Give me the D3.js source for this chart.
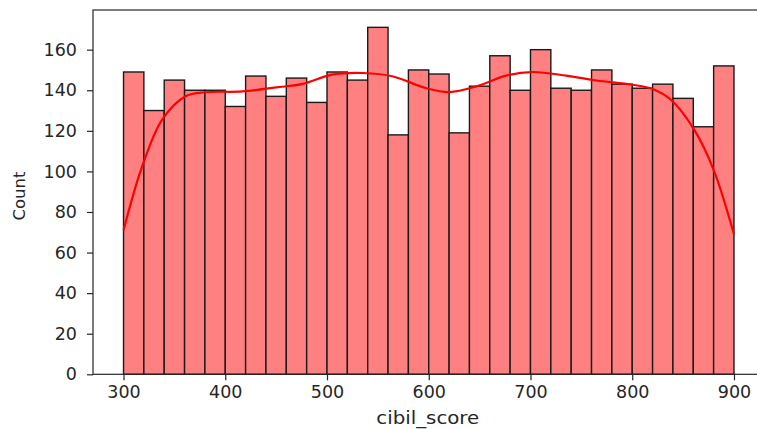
<!DOCTYPE html>
<html><head><meta charset="utf-8">
<script src="https://cdn.jsdelivr.net/npm/d3@7"></script>
<style>body{margin:0;background:#fff}svg{display:block}text{font-family:"DejaVu Sans",sans-serif;fill:#262626}</style>
</head><body><svg id="c" width="757" height="429"></svg>
<script>
const binStarts = [300,320,340,360,380,400,420,440,460,480,500,520,540,560,580,600,620,640,660,680,700,720,740,760,780,800,820,840,860,880];
const counts = [149,130,145,140,140,132,147,137,146,134,149,145,171,118,150,148,119,142,157,140,160,141,140,150,143,141,143,136,122,152];
const binWidth = 20;
const kdeX = [300,318,338,361,381,417,450,475,505,535,565,597,620,647,676,702,735,765,800,820,838,861,880,900];
const kdeY = [71,102,125.5,137,139,139.4,141.4,143,147.7,148.5,146.8,141.1,139.1,141.9,147.2,149,147.2,144.8,142.7,140.6,135.3,120.5,100.8,69];
const xTicks = [300,400,500,600,700,800,900];
const yTicks = [0,20,40,60,80,100,120,140,160];

const svg = d3.select("#c");
const L = 93, T = 10, B = 374.3, R = 764.5;
const x = d3.scaleLinear().domain([270,930]).range([L,R]);
const y = d3.scaleLinear().domain([0,179.55]).range([B,T]);

const g = svg.append("g");
g.selectAll("rect.bar").data(binStarts).join("rect")
  .attr("class","bar")
  .attr("x", d => x(d))
  .attr("width", d => x(d+binWidth)-x(d))
  .attr("y", (d,i) => y(counts[i]))
  .attr("height", (d,i) => y(0)-y(counts[i]))
  .attr("fill","#ff8080").attr("stroke","#1a1a1a").attr("stroke-width",1.4);

const line = d3.line().x(d=>x(d[0])).y(d=>y(d[1])).curve(d3.curveCatmullRom.alpha(0.5));
g.append("path").datum(kdeX.map((v,i)=>[v,kdeY[i]]))
  .attr("d", line).attr("fill","none").attr("stroke","#ff0000").attr("stroke-width",2.2);

// axes
const xAxis = svg.append("g").attr("transform",`translate(0,${B})`)
  .call(d3.axisBottom(x).tickValues(xTicks).tickSize(6).tickPadding(5));
const yAxis = svg.append("g").attr("transform",`translate(${L},0)`)
  .call(d3.axisLeft(y).tickValues(yTicks).tickSize(6).tickPadding(10));
[xAxis,yAxis].forEach(a=>{
  a.select(".domain").remove();
  a.selectAll("line").attr("stroke","#262626").attr("stroke-width",1.2);
  a.selectAll("text").style("font-size","17.5px").style("font-family","DejaVu Sans").attr("fill","#262626");
});
// spines
svg.append("rect").attr("x",L).attr("y",T).attr("width",R-L).attr("height",B-T)
  .attr("fill","none").attr("stroke","#262626").attr("stroke-width",1.2);

svg.append("text").attr("x",(L+R)/2 - 1).attr("y",424).attr("text-anchor","middle")
  .attr("textLength",103).attr("lengthAdjust","spacingAndGlyphs")
  .style("font-size","18px").text("cibil_score");
svg.append("text").attr("transform",`translate(24.5,196) rotate(-90)`).attr("text-anchor","middle")
  .style("font-size","16.5px").text("Count");
</script></body></html>
